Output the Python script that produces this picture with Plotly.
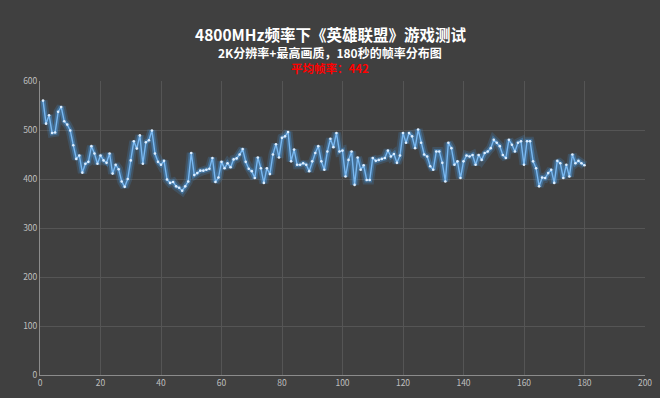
import plotly.graph_objects as go

seconds = list(range(1, 181))
fps = [
    560, 513, 530, 494, 495, 537, 547, 518, 511, 499,
    469, 441, 448, 413, 431, 435, 467, 452, 431, 448,
    438, 433, 452, 411, 429, 420, 395, 384, 400, 438,
    477, 462, 489, 431, 475, 479, 499, 452, 435, 429,
    437, 399, 392, 394, 385, 382, 376, 385, 395, 453,
    408, 412, 417, 417, 419, 421, 443, 394, 403, 435,
    422, 432, 424, 440, 442, 450, 461, 435, 421, 416,
    402, 444, 422, 392, 422, 410, 450, 471, 444, 484,
    487, 496, 436, 460, 429, 429, 432, 429, 416, 436,
    453, 467, 436, 419, 456, 482, 465, 494, 456, 458,
    405, 439, 456, 388, 444, 419, 428, 398, 398, 443,
    437, 439, 441, 443, 458, 446, 451, 433, 448, 494,
    474, 494, 487, 463, 501, 474, 450, 446, 426, 419,
    456, 456, 433, 395, 474, 463, 429, 436, 402, 436,
    448, 446, 449, 429, 449, 439, 453, 456, 463, 480,
    474, 467, 449, 443, 480, 470, 456, 474, 477, 429,
    477, 477, 436, 422, 385, 403, 402, 412, 419, 392,
    437, 432, 402, 429, 405, 450, 432, 437, 432, 428,
]
x_ticks = list(range(0, 201, 20))
y_ticks = list(range(0, 601, 100))

title = "4800MHz频率下《英雄联盟》游戏测试"
subtitle = "2K分辨率+最高画质，180秒的帧率分布图"
avg_label = "平均帧率：442"

BG = "#404040"
GRID = "#555555"
FONT = "Noto Sans CJK SC"

ML, MR, MT, MB = 40, 15, 81, 23
W, H = 660, 398
plot_h = H - MT - MB
plot_w = W - ML - MR

def py(pix):
    return (H - MB - pix) / plot_h

cx = (W / 2 - ML) / plot_w

fig = go.Figure()
fig.add_trace(go.Scatter(x=seconds, y=fps, mode="lines",
                         line=dict(color="rgba(70,160,240,0.18)", width=9),
                         hoverinfo="skip", showlegend=False))
fig.add_trace(go.Scatter(x=seconds, y=fps, mode="lines",
                         line=dict(color="rgba(70,160,240,0.38)", width=5),
                         hoverinfo="skip", showlegend=False))
fig.add_trace(go.Scatter(x=seconds, y=fps, mode="lines+markers",
                         line=dict(color="#7AB8F0", width=1.4),
                         marker=dict(size=2.6, color="#DDEEFF"),
                         showlegend=False))

fig.update_layout(
    width=W, height=H,
    paper_bgcolor=BG, plot_bgcolor=BG,
    margin=dict(l=ML, r=MR, t=MT, b=MB, autoexpand=False),
    font=dict(family=FONT, color="#BFBFBF", size=9),
)
fig.add_annotation(text="<b>" + title + "</b>", x=cx, y=py(34), xref="paper", yref="paper",
                   showarrow=False, font=dict(size=15.5, color="#FFFFFF", family=FONT),
                   xanchor="center", yanchor="middle")
fig.add_annotation(text="<b>" + subtitle + "</b>", x=cx, y=py(52), xref="paper", yref="paper",
                   showarrow=False, font=dict(size=12, color="#FFFFFF", family=FONT),
                   xanchor="center", yanchor="middle")
fig.add_annotation(text="<b>" + avg_label + "</b>", x=cx, y=py(68), xref="paper", yref="paper",
                   showarrow=False, font=dict(size=11.5, color="#FF0000", family=FONT),
                   xanchor="center", yanchor="middle")

fig.update_xaxes(range=[0, 200], tickvals=x_ticks, showgrid=True, gridcolor=GRID,
                 gridwidth=1, zeroline=False, showline=True, linecolor="#8C8C8C",
                 linewidth=1, ticks="", automargin=False,
                 tickfont=dict(size=8.5, color="#BFBFBF"))
fig.update_yaxes(range=[0, 600], tickvals=y_ticks, showgrid=True, gridcolor=GRID,
                 gridwidth=1, zeroline=False, showline=True, linecolor="#8C8C8C",
                 linewidth=1, ticks="", automargin=False,
                 tickfont=dict(size=8.5, color="#BFBFBF"))

fig.write_html("out.html", config={"displayModeBar": False},
               post_script="document.body.style.margin='0';document.body.style.padding='0';document.body.style.background='#404040';")
